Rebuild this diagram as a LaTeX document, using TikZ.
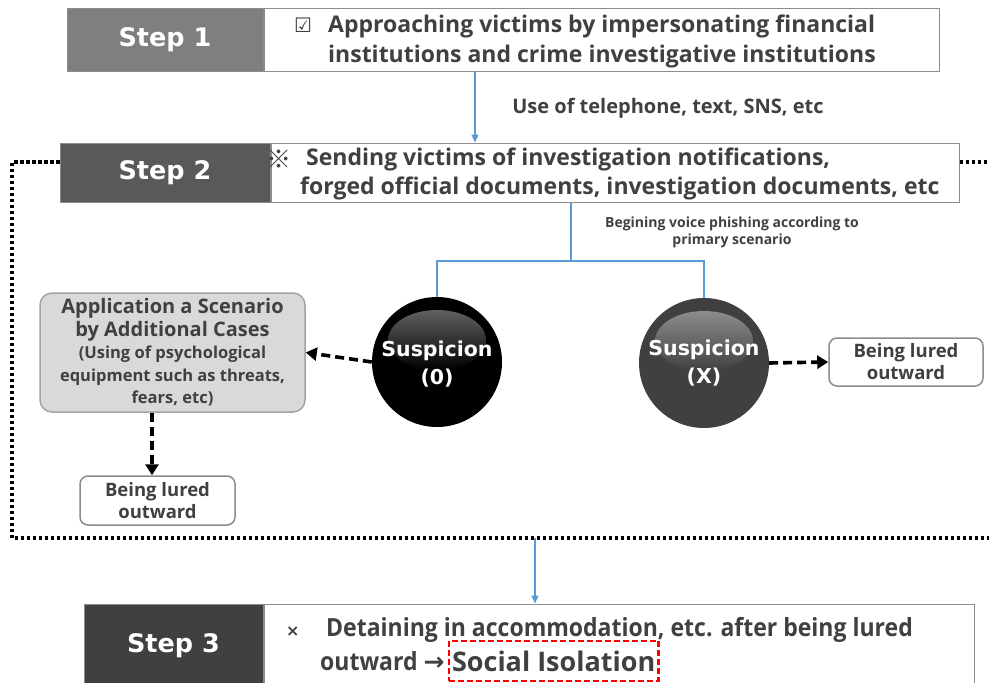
\documentclass[tikz,border=0pt]{standalone}
\usepackage{fontspec}
\setmainfont{Open Sans}
\newfontfamily\tagfont{DejaVu Sans}
\newfontfamily\symfont{DejaVu Sans}
\newfontfamily\cjkfont{Noto Sans CJK KR}
\newfontfamily\narrowfont[FakeStretch=0.92]{Open Sans}
\usetikzlibrary{positioning}
\usetikzlibrary{arrows.meta}
\definecolor{txtgray}{HTML}{404040}
\definecolor{boxgray}{HTML}{8C8C8C}
\definecolor{flowblue}{HTML}{5B9BD5}
\definecolor{tagone}{HTML}{7F7F7F}
\definecolor{tagtwo}{HTML}{595959}
\definecolor{tagthree}{HTML}{404040}
\definecolor{appfill}{HTML}{D9D9D9}
\definecolor{isored}{HTML}{FF0000}
\newcommand{\smalltxt}{\fontsize{16.5}{20}\selectfont}

\begin{document}
\begin{tikzpicture}[x=1pt, y=-1pt, text=txtgray, font=\bfseries,
    flow/.style={draw=flowblue, line width=1.2pt, -{Triangle[length=8pt, width=7pt]}},
    branch/.style={draw=flowblue, line width=1.2pt},
    lure/.style={draw=black, line width=3.6pt, dash pattern=on 9pt off 5pt, -{Triangle[length=11pt, width=13pt]}},
    frame/.style={draw=black, line width=4pt, dash pattern=on 3.5pt off 2.5pt}]
    \tikzstyle{steptag}=[rectangle, draw=boxgray, line width=1pt, inner sep=0pt, text=white, font=\tagfont\bfseries\fontsize{25.5}{30}\selectfont]
    \tikzstyle{stepbox}=[rectangle, draw=boxgray, line width=1pt, fill=white, inner sep=0pt]
    \tikzstyle{steptext}=[anchor=west, align=left, inner sep=0pt, font=\bfseries\fontsize{23}{30}\selectfont]
    \tikzstyle{suspicion}=[circle, minimum size=130pt, inner sep=0pt]
    \tikzstyle{suslabel}=[align=center, text=white, font=\tagfont\bfseries\fontsize{20.5}{28}\selectfont]
    \tikzstyle{lured}=[rectangle, rounded corners=8pt, draw=boxgray, line width=1.5pt, fill=white, minimum width=154pt, minimum height=48pt, align=center, font=\bfseries\fontsize{18.5}{22}\selectfont]

    \useasboundingbox (0,0) rectangle (989,683);

    % step 1
    \node[steptag, fill=tagone, minimum width=196pt, minimum height=63pt] (s1tag) at (165,39.5) {Step 1};
    \node[stepbox, right=0pt of s1tag, minimum width=675pt, minimum height=63pt] (s1box) {};
    \node[steptext] (s1text) at (294,41) {\makebox[34pt][l]{\symfont\mdseries\fontsize{20}{24}\selectfont ☑}Approaching victims by impersonating financial\\\makebox[34pt]{}institutions and crime investigative institutions};

    % step 2
    \node[steptag, fill=tagtwo, minimum width=210pt, minimum height=59pt] (s2tag) at (165,172.5) {Step 2};
    \node[stepbox, right=0pt of s2tag, minimum width=688pt, minimum height=59pt] (s2box) {};
    \node[steptext, font=\bfseries\fontsize{23}{29}\selectfont] (s2text) at (266,174) {\makebox[40pt][l]{\raisebox{-2.5pt}{\cjkfont\mdseries\fontsize{25}{29}\selectfont ※}}Sending victims of investigation notifications,\\\makebox[34pt]{}forged official documents, investigation documents, etc};

    \coordinate (a1) at (475,0);
    \draw[flow] (s1box.south -| a1) -- (s2box.north -| a1);
    \node[font=\bfseries\fontsize{20}{24}\selectfont] (telLabel) at (668,108) {Use of telephone, text, SNS, etc};

    % frame of step 2
    \draw[frame] ([yshift=10.5pt]s2tag.west) -- (12,162) -- (12,538) -- (989,538);
    \draw[frame] ([yshift=10.5pt]s2box.east) -- (989,162);

    % suspicion circles
    \node[suspicion, fill=black] (sus0) at (437,362) {};
    \shade[top color=black!62, bottom color=black] (437,340) ellipse [x radius=49pt, y radius=30pt];
    \node[suslabel] (sus0label) at (437,364) {Suspicion\\(0)};

    \node[suspicion, fill=tagthree] (susX) at (704,363) {};
    \shade[top color=black!45, bottom color=tagthree] (704,341) ellipse [x radius=49pt, y radius=30pt];
    \node[suslabel] (susXlabel) at (704,363) {Suspicion\\(X)};

    \coordinate (a2) at (571,0);
    \coordinate (split) at (571,261);
    \draw[branch] (s2box.south -| a2) -- (split);
    \draw[branch] (sus0.north) |- (split) -| (susX.north);
    \node[align=center, font=\bfseries\fontsize{14}{17}\selectfont] (beginLabel) at (732,232) {Begining voice phishing according to\\primary scenario};

    % additional scenario
    \node[rectangle, rounded corners=12pt, draw=boxgray!80, line width=1.5pt, fill=appfill, minimum width=265pt, minimum height=119pt, align=center, font=\bfseries\fontsize{20}{22.5}\selectfont] (appBox) at (172.5,352.5) {Application a Scenario\\by Additional Cases\\\smalltxt (Using of psychological\\\smalltxt equipment such as threats,\\\smalltxt fears, etc)};
    \draw[lure] (sus0.west) -- (appBox.east);

    \node[lured] (luredR) at (906,362) {Being lured\\outward};
    \draw[lure] (susX.east) -- (luredR.west);

    \node[lured, minimum width=155pt, minimum height=49pt] (luredL) at (157.5,500.5) {Being lured\\outward};
    \coordinate (a3) at (152,0);
    \draw[lure] (appBox.south -| a3) -- (luredL.north -| a3);

    % step 3
    \node[steptag, fill=tagthree, minimum width=179pt, minimum height=84pt] (s3tag) at (173.5,646) {Step 3};
    \node[stepbox, right=0pt of s3tag, minimum width=710pt, minimum height=84pt] (s3box) {};
    \coordinate (frameExit) at (535,538);
    \draw[flow] (frameExit) -- (s3box.north -| frameExit);
    \node[steptext, font=\narrowfont\bfseries\fontsize{25}{30}\selectfont] (s3line1) at (286,630) {\makebox[40pt][l]{\symfont\fontsize{16}{20}\selectfont ×}Detaining in accommodation, etc. after being lured};
    \node[steptext, font=\narrowfont\bfseries\fontsize{25}{30}\selectfont] (s3line2) at (320,661) {outward {\symfont →}};
    \node[right=3pt of s3line2, draw=isored, dash pattern=on 6pt off 3pt, line width=2.5pt, inner sep=3pt, minimum height=40pt, font=\bfseries\fontsize{27}{30}\selectfont] (s3iso) {Social Isolation};
\end{tikzpicture}
\end{document}
